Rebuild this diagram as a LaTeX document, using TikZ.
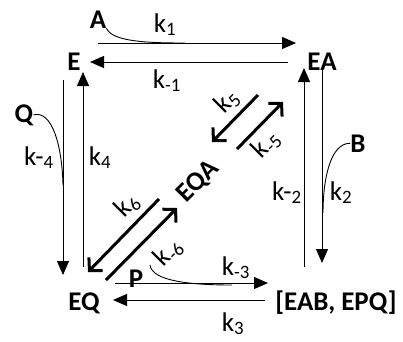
\documentclass[tikz,border=0pt]{standalone}
\usepackage{fontspec}
\setmainfont{Carlito}
\usetikzlibrary{arrows.meta}
\begin{document}
\begin{tikzpicture}[x=1pt,y=-1pt,
  every node/.style={inner sep=0pt,font=\fontsize{27pt}{32pt}\selectfont},
  species/.style={font=\fontsize{27pt}{32pt}\selectfont\bfseries,anchor=base},
  rate/.style={anchor=base},
  diag/.style={rotate=45},
  thinarrow/.style={line width=1pt,-{Triangle[length=14pt,width=12pt]}},
  feed/.style={line width=0.9pt},
  thickarrow/.style={line width=3pt,-{Straight Barb[length=9pt,width=19pt]}}
]
\path[use as bounding box] (0,0) rectangle (403,341);
% species
\node[species] (E) at (74,70) {E};
\node[species] (EA) at (322,70) {EA};
\node[species] (EQ) at (84,310) {EQ};
\node[species] (EABQ) at (336,310) {[EAB, EPQ]};
\node[species,rotate=45,anchor=center] (EQA) at (198,182) {EQA};
\node[species] (A) at (98,28) {A};
\node[species] (Q) at (24,122) {Q};
\node[species] (B) at (358,152) {B};
\node[species] (P) at (136,287) {P};
% rate labels
\node[rate] (k1) at (165,32) {k\textsubscript{1}};
\node[rate] (km1) at (167,88) {k\textsubscript{-1}};
\node[rate] (km4) at (39,165) {k-\textsubscript{4}};
\node[rate] (k4) at (100,165) {k\textsubscript{4}};
\node[rate] (km2) at (287,200) {k-\textsubscript{2}};
\node[rate] (k2) at (341,200) {k\textsubscript{2}};
\node[rate] (km3) at (236,275) {k\textsubscript{-3}};
\node[rate] (k3) at (233,331) {k\textsubscript{3}};
\node[diag] (k5) at (227,101) {k\textsubscript{5}};
\node[diag] (km5) at (266,144) {k\textsubscript{-5}};
\node[diag] (k6) at (127,205) {k\textsubscript{6}};
\node[diag] (km6) at (168,252) {k\textsubscript{-6}};
% arrow ends
\coordinate (t1a) at (98,43);   \coordinate (t1b) at (296,43);
\coordinate (t2a) at (288,62);  \coordinate (t2b) at (90,62);
\coordinate (l1a) at (63,80);   \coordinate (l1b) at (63,275);
\coordinate (l2a) at (83,267);  \coordinate (l2b) at (83,72);
\coordinate (r1a) at (304,267); \coordinate (r1b) at (304,68);
\coordinate (r2a) at (322,70);  \coordinate (r2b) at (322,263);
\coordinate (b1a) at (115,283); \coordinate (b1b) at (268,283);
\coordinate (b2a) at (265,300); \coordinate (b2b) at (113,300);
\coordinate (d1a) at (258,95);  \coordinate (d1b) at (212,142);
\coordinate (d2a) at (237,149); \coordinate (d2b) at (283,102);
\coordinate (d3a) at (159,199); \coordinate (d3b) at (88,272);
\coordinate (d4a) at (106,280); \coordinate (d4b) at (177,208);
\coordinate (fA) at (185,43);
\coordinate (fQ) at (63,185);
\coordinate (fB) at (323,213);
\coordinate (fP) at (232,285);
% thin arrows
\draw[thinarrow] (t1a) -- (t1b);
\draw[thinarrow] (t2a) -- (t2b);
\draw[thinarrow] (l1a) -- (l1b);
\draw[thinarrow] (l2a) -- (l2b);
\draw[thinarrow] (r1a) -- (r1b);
\draw[thinarrow] (r2a) -- (r2b);
\draw[thinarrow] (b1a) -- (b1b);
\draw[thinarrow] (b2a) -- (b2b);
% substrate / product curves
\draw[feed] (A.south east) .. controls (112,42) and (150,43) .. (fA);
\draw[feed] (Q.east) .. controls (52,110) and (62,145) .. (fQ);
\draw[feed] (B.west) .. controls (330,143) and (323,180) .. (fB);
\draw[feed] (150,265) .. controls (152,281) and (190,285) .. (fP);
% thick diagonal arrows
\draw[thickarrow] (d1a) -- (d1b);
\draw[thickarrow] (d2a) -- (d2b);
\draw[thickarrow] (d3a) -- (d3b);
\draw[thickarrow] (d4a) -- (d4b);
\end{tikzpicture}
\end{document}
